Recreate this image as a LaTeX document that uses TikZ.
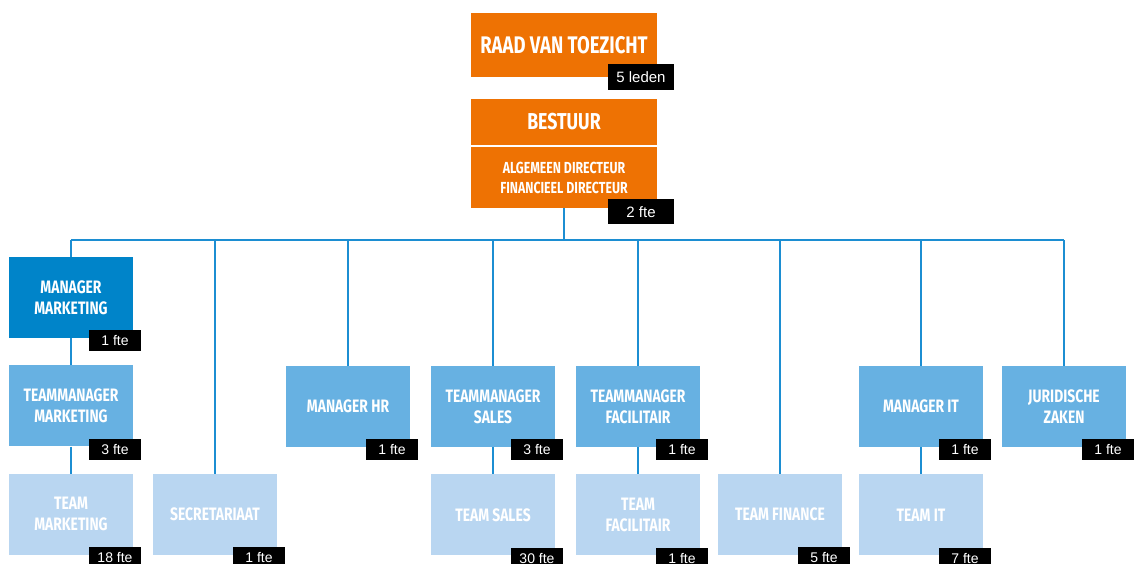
\documentclass[tikz,border=0pt]{standalone}
\usepackage{fontspec}
\setmainfont{Liberation Sans}
\newfontfamily\unitfont{Fira Sans}[FakeStretch=0.77]
\usetikzlibrary{positioning}
\usepackage{xcolor}

\definecolor{oranje}{HTML}{EE7203}
\definecolor{donkerblauw}{HTML}{0084C9}
\definecolor{middenblauw}{HTML}{67B1E2}
\definecolor{lichtblauw}{HTML}{B9D6F1}
\definecolor{lijnblauw}{HTML}{1C8ED2}

\tikzset{
    unit/.style={
        rectangle,
        minimum width=124pt,
        minimum height=81pt,
        inner sep=0pt,
        align=center,
        text=white,
        font=\unitfont\bfseries\fontsize{18}{21}\selectfont
    },
    fte/.style={
        rectangle,
        fill=black,
        text=white,
        minimum width=52pt,
        minimum height=21pt,
        inner sep=0pt,
        anchor=north east,
        font=\fontsize{14}{14}\selectfont
    },
    lijn/.style={draw=lijnblauw, line width=2pt}
}

\begin{document}
\begin{tikzpicture}[x=1pt, y=-1pt, node distance=27pt]
        \useasboundingbox (0,0) rectangle (1137,563);

        % top
        \node (raad) [
            unit,
            fill=oranje,
            minimum width=186pt,
            minimum height=64pt,
            font=\unitfont\bfseries\fontsize{24}{24}\selectfont
        ] at (564,45) {RAAD VAN TOEZICHT};
        \node (raadfte) [
            fte,
            minimum width=66pt,
            minimum height=26pt,
            font=\fontsize{15}{15}\selectfont
        ] at ([xshift=17pt, yshift=13pt]raad.south east) {5 leden};

        \node (bestuur) [
            unit,
            fill=oranje,
            minimum width=186pt,
            minimum height=46pt,
            font=\unitfont\bfseries\fontsize{23}{23}\selectfont
        ] at (564,122) {BESTUUR};
        \node (directie) [
            unit,
            fill=oranje,
            minimum width=186pt,
            minimum height=61pt,
            font=\unitfont\bfseries\fontsize{16}{20}\selectfont
        ] at (564,177.5) {ALGEMEEN DIRECTEUR\\FINANCIEEL DIRECTEUR};
        \node (directiefte) [
            fte,
            minimum width=66pt,
            minimum height=25pt,
            font=\fontsize{15}{15}\selectfont
        ] at ([xshift=17pt, yshift=9pt]directie.south east) {2 fte};

        % marketing
        \node (mmarketing) [unit, fill=donkerblauw] at (71,297.5) {MANAGER\\MARKETING};
        \node (tmmarketing) [unit, fill=middenblauw, below=of mmarketing] {TEAMMANAGER\\MARKETING};
        \node (tmarketing) [unit, fill=lichtblauw, below=of tmmarketing] {TEAM\\MARKETING};

        % tweede rij
        \node (mhr) [unit, fill=middenblauw] at (348,406.5) {MANAGER HR};
        \node (tmsales) [unit, fill=middenblauw] at (493,406.5) {TEAMMANAGER\\SALES};
        \node (tmfacilitair) [unit, fill=middenblauw] at (638,406.5) {TEAMMANAGER\\FACILITAIR};
        \node (mit) [unit, fill=middenblauw] at (921,406.5) {MANAGER IT};
        \node (juridisch) [unit, fill=middenblauw] at (1064,406.5) {JURIDISCHE\\ZAKEN};

        % derde rij
        \node (secretariaat) [unit, fill=lichtblauw] at (215,514.5) {SECRETARIAAT};
        \node (tsales) [unit, fill=lichtblauw, below=of tmsales] {TEAM SALES};
        \node (tfacilitair) [unit, fill=lichtblauw, below=of tmfacilitair] {TEAM\\FACILITAIR};
        \node (tfinance) [unit, fill=lichtblauw] at (780,514.5) {TEAM FINANCE};
        \node (tit) [unit, fill=lichtblauw, below=of mit] {TEAM IT};

        % fte
        \foreach \unit/\aantal in {mmarketing/1, tmmarketing/3, tmarketing/18, secretariaat/1,
            mhr/1, tmsales/3, tsales/30, tmfacilitair/1, tfacilitair/1, tfinance/5,
            mit/1, tit/7, juridisch/1}
        {
            \node (\unit fte) [fte] at ([xshift=8pt, yshift=8pt]\unit.south east) {\aantal\ fte};
        }

        % lijnen
        \coordinate (bus) at (564,240);
        \draw[lijn] (mmarketing.north |- bus) -- (juridisch.north |- bus);
        \draw[lijn] (directie.south) -- (directie.south |- bus);
        \foreach \unit in {mmarketing, secretariaat, mhr, tmsales, tmfacilitair, tfinance, mit, juridisch}
        {
            \draw[lijn] (\unit.north |- bus) -- (\unit.north);
        }
        \draw[lijn] (mmarketing) -- (tmmarketing);
        \draw[lijn] (tmmarketing) -- (tmarketing);
        \draw[lijn] (tmsales) -- (tsales);
        \draw[lijn] (tmfacilitair) -- (tfacilitair);
        \draw[lijn] (mit) -- (tit);
    \end{tikzpicture}
\end{document}
